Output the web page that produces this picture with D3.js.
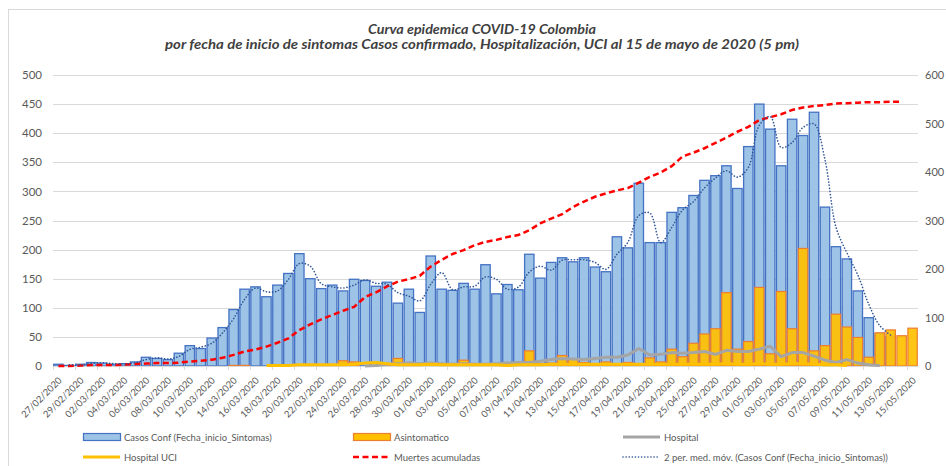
<!DOCTYPE html>
<html>
<head>
<meta charset="utf-8">
<script src="https://cdn.jsdelivr.net/npm/d3@7"></script>
<style>
  html, body { margin: 0; padding: 0; background: #fff; }
  svg { display: block; font-family: Lato, "Open Sans", sans-serif; }
</style>
</head>
<body>
<svg id="chart" width="946" height="466"></svg>
<script>
// ---------- DATA ----------
const dates = ["27/02/2020","28/02/2020","29/02/2020",
"01/03/2020","02/03/2020","03/03/2020","04/03/2020","05/03/2020","06/03/2020","07/03/2020","08/03/2020","09/03/2020","10/03/2020",
"11/03/2020","12/03/2020","13/03/2020","14/03/2020","15/03/2020","16/03/2020","17/03/2020","18/03/2020","19/03/2020","20/03/2020",
"21/03/2020","22/03/2020","23/03/2020","24/03/2020","25/03/2020","26/03/2020","27/03/2020","28/03/2020","29/03/2020","30/03/2020","31/03/2020",
"01/04/2020","02/04/2020","03/04/2020","04/04/2020","05/04/2020","06/04/2020","07/04/2020","08/04/2020","09/04/2020","10/04/2020",
"11/04/2020","12/04/2020","13/04/2020","14/04/2020","15/04/2020","16/04/2020","17/04/2020","18/04/2020","19/04/2020","20/04/2020",
"21/04/2020","22/04/2020","23/04/2020","24/04/2020","25/04/2020","26/04/2020","27/04/2020","28/04/2020","29/04/2020","30/04/2020",
"01/05/2020","02/05/2020","03/05/2020","04/05/2020","05/05/2020","06/05/2020","07/05/2020","08/05/2020","09/05/2020","10/05/2020",
"11/05/2020","12/05/2020","13/05/2020","14/05/2020","15/05/2020"];

const casosConf = [3,1,3,6,5,3,4,7,15,13,
11,22,35,30,48,66,97,132,136,119,
139,159,193,150,133,139,129,149,147,137,
144,108,132,92,189,132,130,142,132,174,
124,140,131,192,151,178,186,179,186,170,
162,222,203,314,212,212,264,272,293,319,
327,344,305,377,450,407,344,424,396,436,
273,205,184,129,83,56,50,null,null];

const asintomatico = [0,0,0,0,0,0,0,0,0,0,
0,0,0,0,0,0,1,1,0,0,
0,0,0,0,0,0,9,7,0,0,
2,13,6,3,4,2,2,10,4,2,
2,6,2,26,4,5,18,12,6,4,
7,4,6,3,14,7,29,16,39,55,
64,126,29,42,135,21,128,64,202,26,
35,89,67,49,15,57,62,52,65];

const hospital = [null,null,null,null,null,null,null,null,null,null,
null,null,null,null,null,null,null,null,null,null,
null,null,null,null,null,null,null,null,0,1,
3,4,5,4,5,4,3,4,3,3,
4,5,6,6,8,11,13,12,11,13,
15,15,19,30,19,20,23,22,23,25,
20,27,25,25,29,34,16,23,23,17,
10,6,11,5,2,1,null,null,null];

const hospitalUCI = [null,null,null,null,null,null,null,null,null,null,
null,null,null,null,null,null,null,null,null,1,
1,1,2,2,2,2,2,3,5,6,
4,2,2,2,3,2,2,2,2,2,
2,1,2,2,2,3,3,3,3,3,
3,3,3,3,3,3,3,3,3,3,
3,4,3,3,4,3,3,4,4,3,
2,2,1,null,null,null,null,null,null];

// right axis
const muertesAcumuladas = [0,0,1,2,2,2,3,4,5,6,
6,7,9,11,13,17,23,30,34,40,
48,57,74,86,96,105,114,122,142,152,
164,174,179,186,205,219,231,239,249,256,
260,266,270,280,294,304,313,328,339,349,
356,362,367,378,390,399,412,432,440,449,
460,471,483,493,507,513,519,528,533,536,
538,541,542,543,544,544,545,545,null];

const leftTicks = [0,50,100,150,200,250,300,350,400,450,500];
const rightTicks = [0,100,200,300,400,500,600];

const titleLines = ["Curva epidemica COVID-19 Colombia",
  "por fecha de inicio de sintomas Casos confirmado, Hospitalización, UCI al 15 de mayo de 2020 (5 pm)"];

// Excel "2 per. med. móv." trendline: moving average of the Casos Conf series
const movAvg = casosConf.map((v, i) =>
  (i === 0 || v == null || casosConf[i-1] == null) ? null : (v + casosConf[i-1]) / 2);

// ---------- CHART ----------
const svg = d3.select("#chart");
const plot = {left: 53, right: 918, top: 75, bottom: 366};
const gridColor = "#D9D9D9", textColor = "#595959";

// outer chart border
svg.append("rect").attr("x", 8.5).attr("y", 9.5).attr("width", 990).attr("height", 500)
  .attr("fill", "#fff").attr("stroke", "#D9D9D9");

const x = d3.scaleBand().domain(dates).range([plot.left, plot.right]).paddingInner(0.05).paddingOuter(0.02);
const yL = d3.scaleLinear().domain([0, 500]).range([plot.bottom, plot.top]);
const yR = d3.scaleLinear().domain([0, 600]).range([plot.bottom, plot.top]);
const cx = d => x(d) + x.bandwidth() / 2;

// title
const titleWidths = [228, 634];
svg.append("g").selectAll("text").data(titleLines).join("text")
  .attr("x", 482).attr("y", (d, i) => 34 + i * 14.5)
  .attr("text-anchor", "middle")
  .attr("font-size", 13).attr("font-weight", "bold").attr("font-style", "italic")
  .attr("textLength", (d, i) => titleWidths[i]).attr("lengthAdjust", "spacingAndGlyphs")
  .attr("fill", "#404040").text(d => d);

// gridlines
svg.append("g").selectAll("line").data(leftTicks.slice(1)).join("line")
  .attr("x1", plot.left).attr("x2", plot.right)
  .attr("y1", d => Math.round(yL(d)) + 0.5).attr("y2", d => Math.round(yL(d)) + 0.5)
  .attr("stroke", gridColor).attr("stroke-width", 1);

// left axis
const axL = svg.append("g").attr("transform", `translate(${plot.left - 11},0)`)
  .call(d3.axisLeft(yL).tickValues(leftTicks).tickSize(0).tickPadding(0));
axL.select(".domain").remove();
axL.selectAll("text").attr("font-size", 11.5).attr("fill", textColor).attr("font-family", "Lato, sans-serif");

// right axis
const axR = svg.append("g").attr("transform", `translate(${plot.right + 7},0)`)
  .call(d3.axisRight(yR).tickValues(rightTicks).tickSize(0).tickPadding(0));
axR.select(".domain").remove();
axR.selectAll("text").attr("font-size", 11).attr("fill", textColor).attr("font-family", "Lato, sans-serif");

// bars: Casos Conf
const idx = d3.range(dates.length);
svg.append("g").selectAll("rect").data(idx.filter(i => casosConf[i] > 0)).join("rect")
  .attr("x", i => x(dates[i]) + 0.5).attr("width", x.bandwidth() - 1)
  .attr("y", i => yL(casosConf[i])).attr("height", i => yL(0) - yL(casosConf[i]))
  .attr("fill", "#9DC3E6").attr("stroke", "#4472C4").attr("stroke-width", 1.3);

// bars: Asintomatico (overlapping)
svg.append("g").selectAll("rect").data(idx.filter(i => asintomatico[i] > 0)).join("rect")
  .attr("x", i => x(dates[i]) + 0.5).attr("width", x.bandwidth() - 1)
  .attr("y", i => yL(asintomatico[i])).attr("height", i => yL(0) - yL(asintomatico[i]))
  .attr("fill", "#FFC000").attr("fill-opacity", 0.92).attr("stroke", "#ED7D31").attr("stroke-width", 1.2);

// x axis baseline
svg.append("line").attr("x1", plot.left).attr("x2", plot.right)
  .attr("y1", plot.bottom + 0.5).attr("y2", plot.bottom + 0.5).attr("stroke", gridColor);

// x ticks every 2 categories
const evenIdx = idx.filter(i => i % 2 === 0);
svg.append("g").selectAll("line").data(evenIdx).join("line")
  .attr("x1", i => Math.round(x(dates[i]) - x.step() * x.paddingInner() / 2) + 0.5)
  .attr("x2", i => Math.round(x(dates[i]) - x.step() * x.paddingInner() / 2) + 0.5)
  .attr("y1", plot.bottom).attr("y2", plot.bottom + 4).attr("stroke", gridColor);

// x labels
svg.append("g").selectAll("text").data(evenIdx).join("text")
  .attr("transform", i => `translate(${cx(dates[i]) + 4},${plot.bottom + 15}) rotate(-45)`)
  .attr("text-anchor", "end").attr("font-size", 9.5).attr("fill", textColor)
  .text(i => dates[i]);

// lines
const lineL = d3.line().defined(d => d.v != null).x(d => cx(d.d)).y(d => yL(d.v));
const lineR = d3.line().defined(d => d.v != null).x(d => cx(d.d)).y(d => yR(d.v));
const pts = arr => arr.map((v, i) => ({d: dates[i], v}));

svg.append("path").attr("d", lineL(pts(hospital)))
  .attr("fill", "none").attr("stroke", "#A5A5A5").attr("stroke-width", 3).attr("stroke-linejoin", "round");
svg.append("path").attr("d", lineL(pts(hospitalUCI)))
  .attr("fill", "none").attr("stroke", "#FFC000").attr("stroke-width", 3).attr("stroke-linejoin", "round");
svg.append("path").attr("d", lineR(pts(muertesAcumuladas)))
  .attr("fill", "none").attr("stroke", "#FF0000").attr("stroke-width", 2.5).attr("stroke-dasharray", "6,3.5");
svg.append("path").attr("d", lineL.curve(d3.curveCatmullRom.alpha(0.5))(pts(movAvg)))
  .attr("fill", "none").attr("stroke", "#2F5597").attr("stroke-width", 1.6)
  .attr("stroke-dasharray", "0.1,3").attr("stroke-linecap", "round");

// legend
const leg = svg.append("g").attr("font-size", 9.5).attr("fill", textColor);
const legendItems = [
  {x: 83, y: 437, type: "bar", fill: "#9DC3E6", stroke: "#4472C4", label: "Casos Conf (Fecha_inicio_Sintomas)"},
  {x: 353, y: 437, type: "bar", fill: "#FFC000", stroke: "#ED7D31", label: "Asintomatico"},
  {x: 623, y: 437, type: "line", stroke: "#A5A5A5", w: 3, dash: null, label: "Hospital"},
  {x: 83, y: 457, type: "line", stroke: "#FFC000", w: 3, dash: null, label: "Hospital UCI"},
  {x: 353, y: 457, type: "line", stroke: "#FF0000", w: 2.5, dash: "6,3.5", label: "Muertes acumuladas"},
  {x: 623, y: 457, type: "dot", stroke: "#2F5597", w: 1.6, dash: "0.1,3", label: "2 per. med. móv. (Casos Conf (Fecha_inicio_Sintomas))"}
];
legendItems.forEach(it => {
  if (it.type === "bar") {
    leg.append("rect").attr("x", it.x + 0.5).attr("y", it.y - 3.5).attr("width", 37).attr("height", 7)
      .attr("fill", it.fill).attr("stroke", it.stroke).attr("stroke-width", 1.2);
  } else {
    const l = leg.append("line").attr("x1", it.x).attr("x2", it.x + 37).attr("y1", it.y).attr("y2", it.y)
      .attr("stroke", it.stroke).attr("stroke-width", it.w);
    if (it.dash) l.attr("stroke-dasharray", it.dash);
    if (it.type === "dot") l.attr("stroke-linecap", "round");
  }
  leg.append("text").attr("x", it.x + 41).attr("y", it.y + 3.5).text(it.label);
});
</script>
</body>
</html>
